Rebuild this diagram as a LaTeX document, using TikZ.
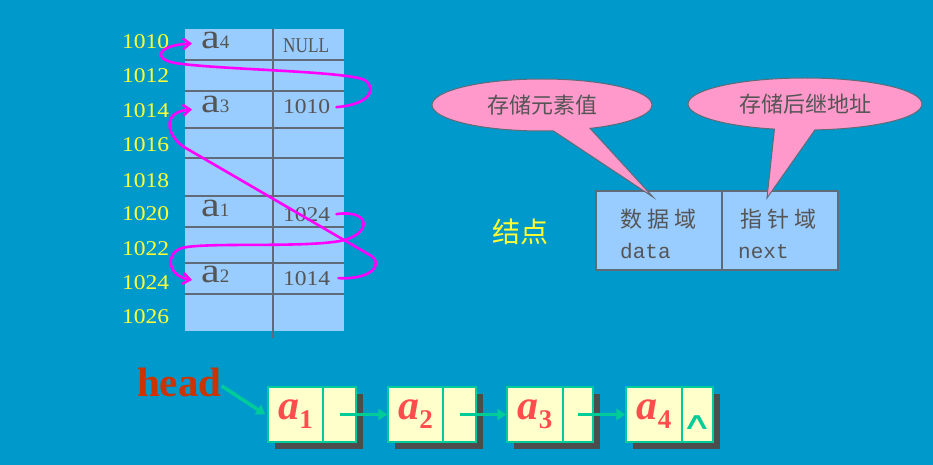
\documentclass[tikz,border=0pt]{standalone}
\usepackage{fontspec}
\setmainfont{Liberation Serif}
\newfontfamily\cjk{Noto Sans CJK SC}
\newfontfamily\addrf[FakeStretch=1.12]{Liberation Serif}
\newfontfamily\nullf[FakeStretch=0.82]{Liberation Serif}
\newfontfamily\monof{Liberation Mono}
\newfontfamily\symf{DejaVu Sans}
\usetikzlibrary{arrows.meta,shapes.callouts,shapes.geometric}
\definecolor{bg}{HTML}{0099CC}
\definecolor{cellblue}{HTML}{99CCFF}
\definecolor{gridgray}{HTML}{5F6B78}
\definecolor{txtgray}{HTML}{555555}
\definecolor{addry}{HTML}{FFFF33}
\definecolor{mag}{HTML}{FF00FF}
\definecolor{pinkc}{HTML}{FF99CC}
\definecolor{lyellow}{HTML}{FFFFCC}
\definecolor{tealc}{HTML}{00CC99}
\definecolor{shad}{HTML}{4D4D4D}
\definecolor{headred}{HTML}{CC3300}
\definecolor{ared}{HTML}{FF4D4D}
\newcommand{\asubx}[1]{{\fontsize{42}{42}\selectfont\bfseries\itshape a}\raisebox{-9pt}{\fontsize{27}{27}\selectfont\bfseries #1}}
\newcommand{\elemx}[1]{\scalebox{1.2}[1]{\fontsize{35}{35}\selectfont a}{\fontsize{19}{19}\selectfont #1}}
\begin{document}
\begin{tikzpicture}[x=1pt,y=-1pt,
  gridline/.style={draw=gridgray,line width=1.5pt},
  addr/.style={anchor=base west,inner sep=0pt,text=addry,font=\addrf\fontsize{21}{21}\selectfont},
  elem/.style={anchor=base west,inner sep=0pt,text=txtgray},
  ptr/.style={anchor=base west,inner sep=0pt,text=txtgray,font=\addrf\fontsize{21}{21}\selectfont},
  magarrow/.style={draw=mag,line width=2.6pt,line cap=round,-{Straight Barb[length=7pt,width=11pt]}},
  fieldbox/.style={draw=gridgray,fill=cellblue,line width=1.2pt,minimum height=79pt,inner sep=0pt},
  cjktxt/.style={anchor=base west,inner sep=0pt,text=txtgray,font=\cjk\fontsize{22}{22}\selectfont},
  monotxt/.style={anchor=base west,inner sep=0pt,text=txtgray,font=\monof\fontsize{21}{21}\selectfont},
  bubble/.style={ellipse callout,fill=pinkc,draw=gridgray,line width=1pt,minimum height=52pt,inner sep=0pt,callout pointer arc=20,text=txtgray,font=\cjk\fontsize{22}{22}\selectfont},
  lcell/.style={draw=tealc,fill=lyellow,line width=1.2pt,minimum height=55pt,inner sep=0pt,text=ared},
  tarrow/.style={draw=tealc,line width=3.5pt,-{Triangle[length=9pt,width=11pt]}}
]
\useasboundingbox (0,0) rectangle (933,465);
\fill[bg] (0,0) rectangle (933,465);

% memory table
\fill[cellblue] (185,29) rectangle (344,331);
\foreach \yy in {60,91,128,158,196,227,263,294} \draw[gridline] (185,\yy) -- (344,\yy);
\draw[gridline] (273,29) -- (273,338);

\foreach \t/\yy in {1010/49,1012/83,1014/118,1016/152,1018/187,1020/220,1022/255,1024/289,1026/323}
  \node[addr] (ad\t) at (122,\yy) {\t};

\node[elem] (a4) at (201,49) {\elemx{4}};
\node[elem] (a3) at (201,113) {\elemx{3}};
\node[elem] (a1) at (201,216) {\elemx{1}};
\node[elem] (a2) at (201,282) {\elemx{2}};

\node[ptr] (p4) at (283,53) {\nullf NULL};
\node[ptr] (p3) at (283,114) {1010};
\node[ptr] (p1) at (283,221) {1024};
\node[ptr] (p2) at (283,285) {1014};

% magenta links
\draw[magarrow] ([xshift=6pt]p3.east) .. controls (365,105) and (378,92) .. (366,81)
  .. controls (355,71) and (220,70) .. (175,63)
  .. controls (150,58) and (160,45) .. ([xshift=-9pt,yshift=-2.5pt]a4.west);
\draw[magarrow] ([xshift=8pt]p2.east) .. controls (372,280) and (386,263) .. (368,254)
  -- (184,147) .. controls (168,137) and (160,112) .. ([xshift=-9pt,yshift=-4.5pt]a3.west);
\draw[magarrow] ([xshift=6pt]p1.east) .. controls (372,209) and (372,235) .. (340,241)
  .. controls (300,248) and (205,242) .. (182,248)
  .. controls (164,254) and (168,276) .. ([xshift=-9pt,yshift=-6pt]a2.west);

% node structure
\node[fieldbox,minimum width=126pt] (df) at (659,230.5) {};
\node[fieldbox,minimum width=116pt] (nf) at (780,230.5) {};
\node[cjktxt] (dfz) at (620,227) {数\hspace{5pt}据\hspace{5pt}域};
\node[monotxt] (dfe) at (620,258) {data};
\node[cjktxt] (nfz) at (740,227) {指\hspace{5pt}针\hspace{5pt}域};
\node[monotxt] (nfe) at (738,258) {next};

\node[bubble,minimum width=220pt,callout absolute pointer={(653,197)}] (c1) at (542,105) {存储元素值};
\node[bubble,minimum width=234pt,callout absolute pointer={(767,198)}] (c2) at (805,104) {存储后继地址};

\node[text=addry,font=\cjk\fontsize{28}{28}\selectfont,inner sep=0pt] (jd) at (520,232) {结点};

% linked list
\fill[shad] (275,394) rectangle (363,449);
\fill[shad] (395,394) rectangle (483,449);
\fill[shad] (514,394) rectangle (600,449);
\fill[shad] (633,394) rectangle (720,449);

\node[lcell,minimum width=55pt] (n1d) at (295.5,414.5) {\asubx{1}};
\node[lcell,minimum width=33pt] (n1p) at (339.5,414.5) {};
\node[lcell,minimum width=55pt] (n2d) at (415.5,414.5) {\asubx{2}};
\node[lcell,minimum width=33pt] (n2p) at (459.5,414.5) {};
\node[lcell,minimum width=56pt] (n3d) at (535,414.5) {\asubx{3}};
\node[lcell,minimum width=30pt] (n3p) at (578,414.5) {};
\node[lcell,minimum width=56pt] (n4d) at (654,414.5) {\asubx{4}};
\node[lcell,minimum width=31pt] (n4p) at (697.5,414.5) {};
\node[text=tealc,inner sep=0pt] (nil) at (697,423) {\scalebox{1.25}[0.7]{\symf\fontsize{34}{34}\selectfont ∧}};

\node[anchor=base west,inner sep=0pt,text=headred,font=\bfseries\fontsize{41}{41}\selectfont] (head) at (137,396) {head};

\draw[tarrow] ([yshift=-4pt]head.east) -- ([xshift=-2pt]n1d.west);
\draw[tarrow] (n1p.center) -- (n2d.west);
\draw[tarrow] (n2p.center) -- (n3d.west);
\draw[tarrow] (n3p.center) -- (n4d.west);
\end{tikzpicture}
\end{document}
